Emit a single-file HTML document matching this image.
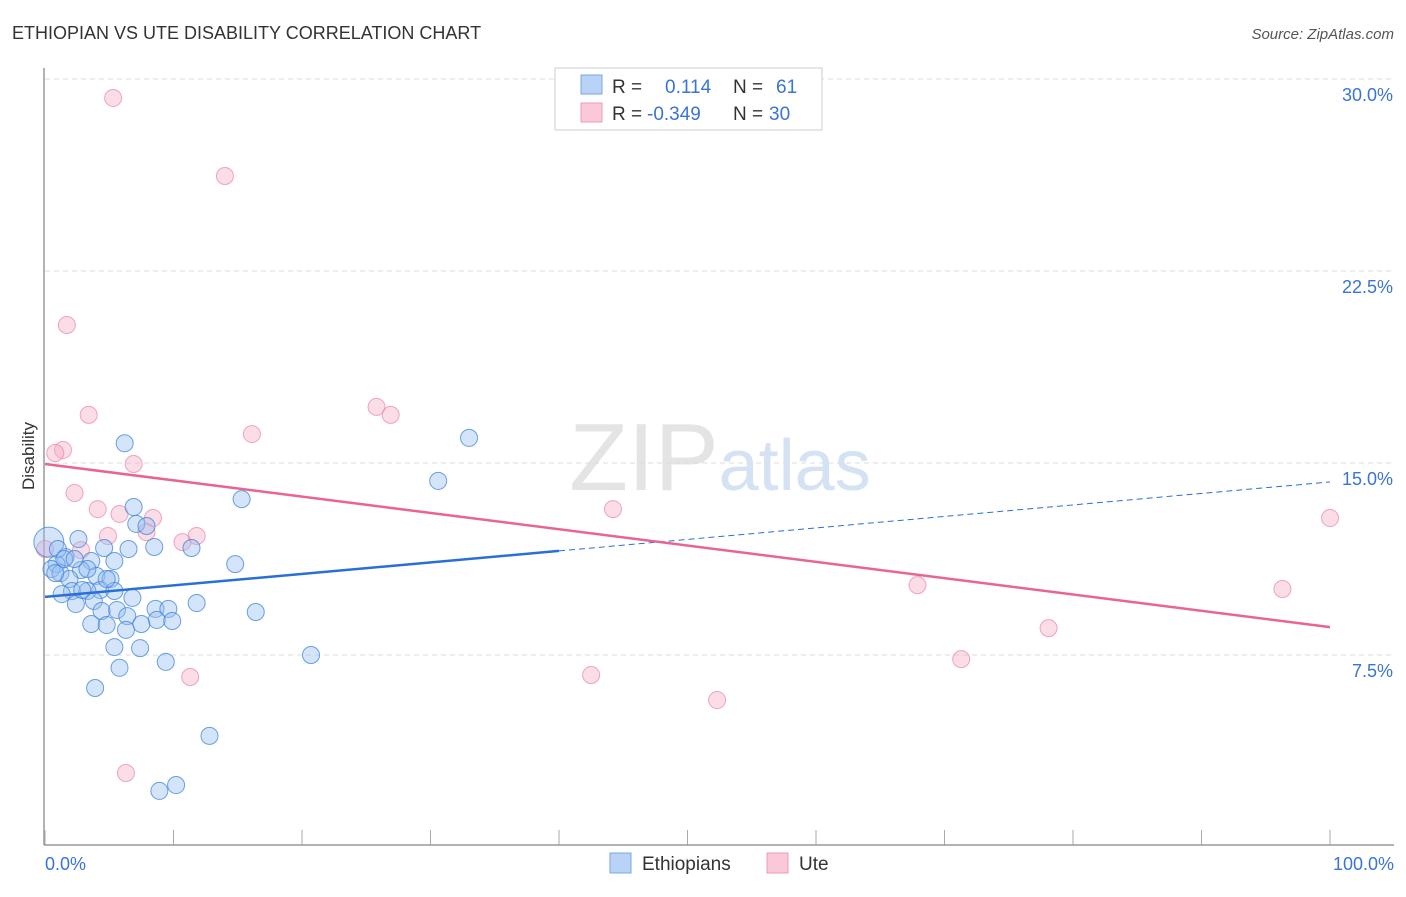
<!DOCTYPE html>
<html><head><meta charset="utf-8"><style>
body{margin:0;background:#fff;font-family:"Liberation Sans",sans-serif;}
svg text{font-family:"Liberation Sans",sans-serif;}
</style></head><body>
<svg id="chart" width="1406" height="892">
<text x="12" y="39" font-size="18" fill="#333">ETHIOPIAN VS UTE DISABILITY CORRELATION CHART</text>
<text x="1394" y="39" font-size="15" fill="#555" text-anchor="end" font-style="italic">Source: ZipAtlas.com</text>
<text x="720" y="490" font-size="96" fill="#e4e4e4" text-anchor="middle" font-family="Liberation Serif">ZIP<tspan fill="#d4e2f4" font-family="Liberation Sans" font-size="72">atlas</tspan></text>
<g id="grid"></g>
<line x1="44" y1="68" x2="44" y2="845" stroke="#999" stroke-width="1.5"/>
<line x1="44" y1="845" x2="1394" y2="845" stroke="#999" stroke-width="1.5"/>
<text x="34" y="456" font-size="17" fill="#333" text-anchor="middle" transform="rotate(-90 34 456)">Disability</text>
<text x="45" y="870" font-size="18" fill="#3a74d6">0.0%</text>
<text x="1394" y="870" font-size="18" fill="#3a74d6" text-anchor="end">100.0%</text>
<g id="pts"></g>
<g id="lines"></g>
<g>
<rect x="555" y="68" width="267" height="62" fill="#fff" stroke="#ccc"/>
<rect x="581" y="75" width="21" height="19" fill="#b8d3f5" stroke="#7aa7e6"/>
<rect x="581" y="103" width="21" height="19" fill="#fac8d8" stroke="#ee9bb6"/>
<text x="612" y="93" font-size="19" fill="#333">R = <tspan fill="#3a74d6" x="665">0.114</tspan><tspan x="733">N = </tspan><tspan fill="#3a74d6" x="776">61</tspan></text>
<text x="612" y="120" font-size="19" fill="#333">R = <tspan fill="#3a74d6" x="647">-0.349</tspan><tspan x="733">N = </tspan><tspan fill="#3a74d6" x="769">30</tspan></text>
</g>
<g>
<rect x="610" y="853" width="21" height="20" fill="#b8d3f5" stroke="#7aa7e6"/>
<text x="642" y="870" font-size="19" fill="#333">Ethiopians</text>
<rect x="767" y="853" width="21" height="20" fill="#fac8d8" stroke="#ee9bb6"/>
<text x="799" y="870" font-size="19" fill="#333">Ute</text>
</g>
</svg>
<script>
const yTicks=[7.5,15,22.5,30];
const yTickLabels=["7.5%","15.0%","22.5%","30.0%"];
const xTicks=[0,10,20,30,40,50,60,70,80,90,100];
const ethX=[6.2,33,30.6,15.3,6.9,7.1,7.9,0.3,2.6,8.5,11.4,4.6,6.5,1.6,3.6,5.4,0.9,14.8,0.5,2.8,1.2,4,5.1,1.9,0.8,4.3,2.1,3.3,5.4,1.3,6.8,3.8,2.4,5.6,4.4,8.6,9.6,11.8,16.4,6.4,8.7,9.9,3.6,4.8,7.5,6.3,5.4,7.4,20.7,9.4,5.8,3.9,12.8,8.9,10.2,1,1.5,3.3,2.3,4.8,2.9];
const ethY=[15.77,15.98,14.3,13.59,13.28,12.62,12.54,11.91,12.03,11.72,11.68,11.68,11.64,11.33,11.17,11.17,11.05,11.05,10.86,10.82,10.7,10.59,10.47,10.47,10.7,10.04,10,10,10,9.88,9.73,9.61,9.49,9.26,9.22,9.3,9.3,9.53,9.18,9.02,8.87,8.83,8.71,8.67,8.71,8.48,7.81,7.77,7.5,7.23,7.0,6.21,4.34,2.19,2.42,11.64,11.25,10.86,11.25,10.47,10.04];
const uteX=[5.3,14,1.7,25.8,26.9,3.4,16.1,1.4,0.8,6.9,2.3,4.1,5.8,8.4,44.2,100,4.9,11.8,7.9,10.7,2.8,0,67.9,96.3,78.1,71.3,11.3,42.5,52.3,6.3];
const uteY=[29.26,26.21,20.39,17.19,16.88,16.88,16.13,15.51,15.39,14.96,13.83,13.2,13.01,12.85,13.2,12.85,12.15,12.15,12.3,11.91,11.6,11.64,10.23,10.08,8.55,7.34,6.64,6.72,5.74,2.89];
const ethSize=[];
const blueFit=[9.77,14.26], pinkFit=[14.96,8.59];
const X=v=>45+v*12.85, Y=v=>847-v*25.6;
const NS="http://www.w3.org/2000/svg";
const grid=document.getElementById('grid'),pts=document.getElementById('pts'),lines=document.getElementById('lines');
function mk(tag,attrs,parent){const e=document.createElementNS(NS,tag);for(const k in attrs)e.setAttribute(k,attrs[k]);parent.appendChild(e);return e;}
yTicks.forEach((t,i)=>{
 const l=mk('line',{x1:45,x2:1394,y1:Y(t),y2:Y(t),stroke:'#ddd','stroke-dasharray':'5,4'},grid);
 
 
 const tx=mk('text',{x:1393,y:Y(t)+22,'font-size':18,fill:'#3a74d6','text-anchor':'end'},grid);
 tx.textContent=yTickLabels[i];
 
 
});
xTicks.forEach(t=>{
 const l=mk('line',{x1:X(t),x2:X(t),y1:830,y2:845,stroke:'#aaa'},grid);
 
 
});
uteX.forEach((x,i)=>{
 const c=mk('circle',{cx:X(x),cy:Y(uteY[i]),r:8.5,fill:'rgba(246,170,196,0.4)',stroke:'rgba(236,130,165,0.7)','stroke-width':1},pts);
 
 
});
ethX.forEach((x,i)=>{
 const c=mk('circle',{cx:X(x),cy:Y(ethY[i]),r:i==3?0:8.5,fill:'rgba(150,190,240,0.4)',stroke:'rgba(60,130,220,0.75)','stroke-width':1},pts);
 if(i==7)c.setAttribute('r',15);
 
 
});
(function(){const c=mk('circle',{cx:X(ethX[3]),cy:Y(ethY[3]),r:8.5,fill:'rgba(150,190,240,0.4)',stroke:'rgba(60,130,220,0.75)'},pts);

})();
const bAt=v=>blueFit[0]+(blueFit[1]-blueFit[0])*v/100;
let l1=mk('line',{x1:X(0),y1:Y(bAt(0)),x2:X(40),y2:Y(bAt(40)),stroke:'#2a6fd6','stroke-width':2.5},lines);


let l2=mk('line',{x1:X(40),y1:Y(bAt(40)),x2:X(100),y2:Y(bAt(100)),stroke:'#2a6fd6','stroke-width':1,'stroke-dasharray':'6,4'},lines);


let l3=mk('line',{x1:X(0),y1:Y(pinkFit[0]),x2:X(100),y2:Y(pinkFit[1]),stroke:'#e8658f','stroke-width':2.5},lines);


</script>
</body></html>
